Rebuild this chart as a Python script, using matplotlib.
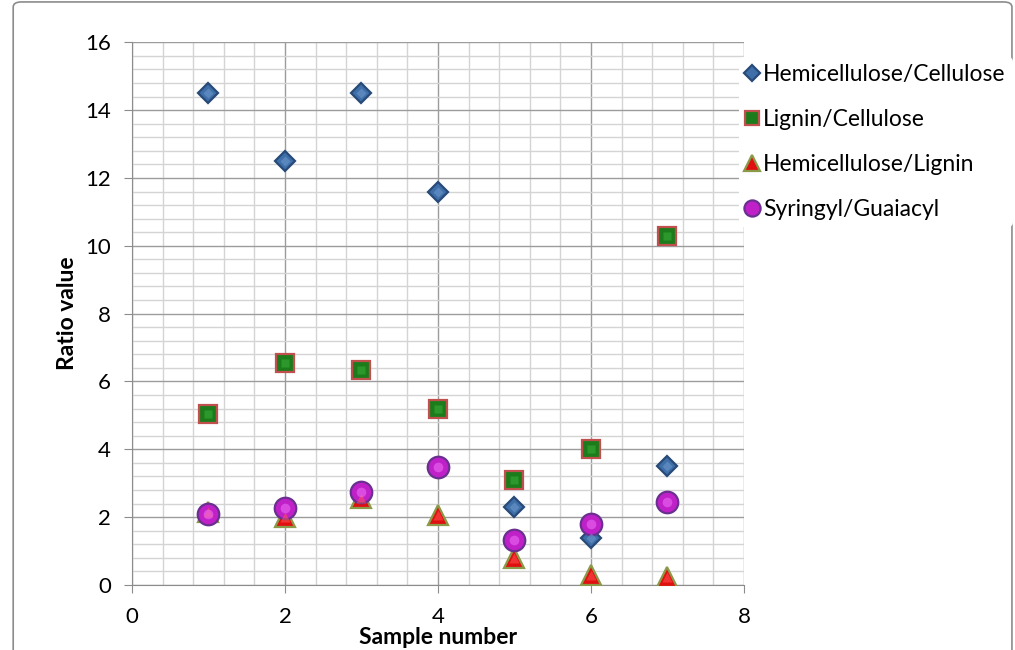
import numpy as np
import matplotlib
matplotlib.use('Agg')
import matplotlib.pyplot as plt
from matplotlib.patches import FancyBboxPatch
from matplotlib.ticker import MultipleLocator

samples = [1, 2, 3, 4, 5, 6, 7]
hemi_cell = [14.5, 12.5, 14.5, 11.6, 2.3, 1.4, 3.5]
lignin_cell = [5.05, 6.55, 6.35, 5.2, 3.1, 4.0, 10.3]
hemi_lignin = [2.15, 2.0, 2.55, 2.05, 0.8, 0.3, 0.25]
syr_guai = [2.1, 2.28, 2.74, 3.48, 1.32, 1.8, 2.45]

plt.rcParams['font.family'] = ['Lato', 'DejaVu Sans']

fig = plt.figure(figsize=(10.15, 6.5), dpi=100)
ax = fig.add_axes([0.130, 0.1, 0.603, 0.835])

# outer chart frame
frame = FancyBboxPatch((0.013, -0.02), 0.984, 1.017, boxstyle='round,pad=0,rounding_size=0.008',
                       transform=fig.transFigure, fill=False, edgecolor='#8c8c8c', lw=1.2)
fig.patches.append(frame)

ax.set_xlim(0, 8)
ax.set_ylim(0, 16)
ax.xaxis.set_major_locator(MultipleLocator(2))
ax.xaxis.set_minor_locator(MultipleLocator(0.4))
ax.yaxis.set_major_locator(MultipleLocator(2))
ax.yaxis.set_minor_locator(MultipleLocator(0.4))
ax.grid(which='minor', color='#d4d4d4', lw=1.0)
ax.grid(which='major', color='#9c9c9c', lw=1.0)
ax.set_axisbelow(True)
for s in ['top', 'right']:
    ax.spines[s].set_visible(False)
for s in ['left', 'bottom']:
    ax.spines[s].set_color('#8c8c8c')
ax.tick_params(which='major', length=6, color='#8c8c8c', labelsize=16, pad=9)
ax.tick_params(axis='x', pad=10)
ax.tick_params(which='minor', length=0)

# shaded markers: base marker plus a small lighter highlight
def series(y, marker, size, face, edge, hi, label):
    ax.plot(samples, y, ls='none', marker=marker, ms=size, mfc=face, mec=edge, mew=1.6,
            label=label, zorder=3)
    ax.plot(samples, y, ls='none', marker=marker, ms=size * 0.45, mfc=hi, mec='none',
            alpha=0.55, zorder=4)

series(hemi_cell, 'D', 10.5, '#3f6fa8', '#274a78', '#6f9ad0', 'Hemicellulose/Cellulose')
series(lignin_cell, 's', 13.5, '#1c7c1c', '#c0504d', '#3ab03a', 'Lignin/Cellulose')
series(hemi_lignin, '^', 15, '#e01010', '#8a9a48', '#ff5050', 'Hemicellulose/Lignin')
series(syr_guai, 'o', 15.5, '#c020c8', '#6a3090', '#f070f8', 'Syringyl/Guaiacyl')

handles, labels = ax.get_legend_handles_labels()
leg = fig.legend(handles, labels, loc='upper left', bbox_to_anchor=(0.717, 0.93),
                 frameon=True, fontsize=16.5, handlelength=0.5, handletextpad=0.25,
                 labelspacing=1.05, borderpad=0.3, markerscale=0.75)
leg.get_frame().set_edgecolor('none')
leg.get_frame().set_facecolor('white')
leg.get_frame().set_alpha(1)

ax.set_ylabel('Ratio value', fontsize=16.5, fontweight='bold', labelpad=5)
ax.set_xlabel('Sample number', fontsize=16.5, fontweight='bold', labelpad=0)

fig.savefig('out.png', dpi=100)
